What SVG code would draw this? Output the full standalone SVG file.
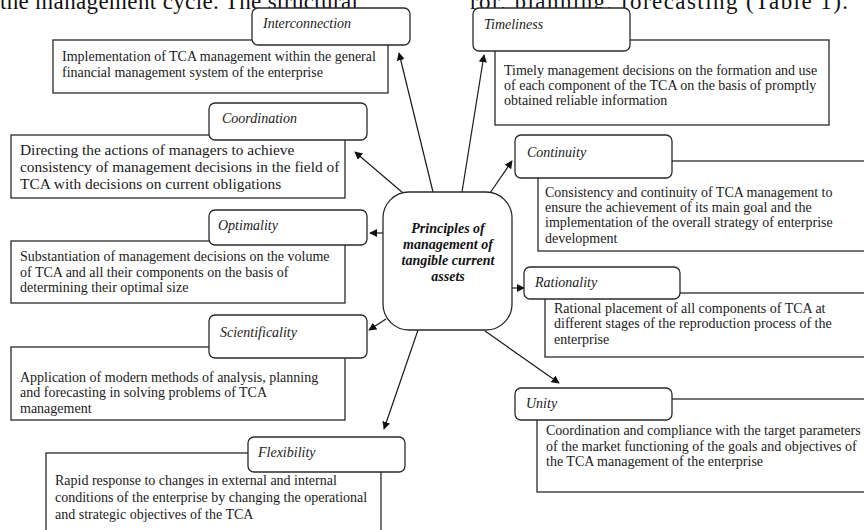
<svg xmlns="http://www.w3.org/2000/svg" width="864" height="530" viewBox="0 0 864 530">
<style>
.box{fill:#fff;stroke:#2a2a2a;stroke-width:1.3}
.lbl{fill:#fff;stroke:#2a2a2a;stroke-width:1.3}
.t{font-family:"Liberation Serif","Times New Roman",serif;font-size:14px;fill:#1a1a1a}
.tb{font-size:15.4px}
.li{font-family:"Liberation Serif","Times New Roman",serif;font-size:14px;font-style:italic;fill:#1a1a1a}
.c{font-family:"Liberation Serif","Times New Roman",serif;font-size:14px;font-style:italic;font-weight:bold;fill:#111;text-anchor:middle}
.hd{font-family:"Liberation Serif","Times New Roman",serif;font-size:23px;fill:#111}
.ar{fill:none;stroke:#1a1a1a;stroke-width:1.2;marker-end:url(#ah)}
</style>
<defs>
<marker id="ah" viewBox="0 0 10 10" refX="9" refY="5" markerWidth="8" markerHeight="8" markerUnits="userSpaceOnUse" orient="auto">
<path d="M0,0 L10,5 L0,10 z" fill="#111"/>
</marker>
</defs>
<rect width="864" height="530" fill="#fff"/>
<g id="header">
<text class="hd" x="0" y="9" textLength="358" lengthAdjust="spacing">the management cycle. The structural</text>
<text class="hd" x="470" y="9" textLength="378" lengthAdjust="spacing">ror, planning, forecasting (Table 1).</text>
</g>
<g id="connectors">
<line class="ar" x1="433" y1="192" x2="399" y2="53"/>
<line class="ar" x1="462" y1="192" x2="484" y2="55"/>
<line class="ar" x1="490" y1="193" x2="512" y2="161"/>
<line class="ar" x1="403" y1="193" x2="355" y2="152"/>
<line class="ar" x1="383" y1="233" x2="370" y2="233"/>
<line class="ar" x1="386" y1="319" x2="369" y2="330"/>
<line class="ar" x1="418" y1="330" x2="384" y2="429"/>
<line class="ar" x1="485" y1="331" x2="559" y2="383"/>
<line class="ar" x1="511" y1="288" x2="524" y2="288"/>
</g>
<g id="interconnection">
<rect class="box" x="53" y="40" width="335" height="53"/>
<text class="t" x="62" y="61">Implementation of TCA management within the general</text>
<text class="t" x="62" y="77">financial management system of the enterprise</text>
<rect class="lbl" x="252" y="8" width="158" height="37" rx="6"/>
<text class="li" x="263" y="28">Interconnection</text>
</g>
<g id="timeliness">
<rect class="box" x="495" y="40" width="334" height="85"/>
<text class="t" x="504" y="75">Timely management decisions on the formation and use</text>
<text class="t" x="504" y="90">of each component of the TCA on the basis of promptly</text>
<text class="t" x="504" y="105">obtained reliable information</text>
<rect class="lbl" x="473" y="8" width="157" height="43" rx="6"/>
<text class="li" x="484" y="29">Timeliness</text>
</g>
<g id="coordination">
<rect class="box" x="11" y="135" width="334" height="63"/>
<text class="t tb" x="20" y="155">Directing the actions of managers to achieve</text>
<text class="t tb" x="20" y="172">consistency of management decisions in the field of</text>
<text class="t tb" x="20" y="189">TCA with decisions on current obligations</text>
<rect class="lbl" x="209" y="103" width="158" height="37" rx="6"/>
<text class="li" x="222" y="123">Coordination</text>
</g>
<g id="optimality">
<rect class="box" x="11" y="241" width="334" height="62"/>
<text class="t" x="20" y="261">Substantiation of management decisions on the volume</text>
<text class="t" x="20" y="277">of TCA and all their components on the basis of</text>
<text class="t" x="20" y="292">determining their optimal size</text>
<rect class="lbl" x="209" y="210" width="158" height="35" rx="6"/>
<text class="li" x="218" y="230">Optimality</text>
</g>
<g id="scientificality">
<rect class="box" x="11" y="347" width="334" height="73"/>
<text class="t" x="20" y="382">Application of modern methods of analysis, planning</text>
<text class="t" x="20" y="397">and forecasting in solving problems of TCA</text>
<text class="t" x="20" y="413">management</text>
<rect class="lbl" x="209" y="315" width="158" height="43" rx="6"/>
<text class="li" x="220" y="337">Scientificality</text>
</g>
<g id="flexibility">
<rect class="box" x="46" y="453" width="335" height="90"/>
<text class="t" x="55" y="485">Rapid response to changes in external and internal</text>
<text class="t" x="55" y="502">conditions of the enterprise by changing the operational</text>
<text class="t" x="55" y="519">and strategic objectives of the TCA</text>
<rect class="lbl" x="248" y="437" width="157" height="35" rx="6"/>
<text class="li" x="258" y="457">Flexibility</text>
</g>
<g id="continuity">
<rect class="box" x="538" y="161" width="340" height="90"/>
<text class="t" x="545" y="197">Consistency and continuity of TCA management to</text>
<text class="t" x="545" y="212">ensure the achievement of its main goal and the</text>
<text class="t" x="545" y="227">implementation of the overall strategy of enterprise</text>
<text class="t" x="545" y="243">development</text>
<rect class="lbl" x="515" y="135" width="157" height="43" rx="6"/>
<text class="li" x="527" y="157">Continuity</text>
</g>
<g id="rationality">
<rect class="box" x="545" y="293" width="335" height="64"/>
<text class="t" x="554" y="313">Rational placement of all components of TCA at</text>
<text class="t" x="554" y="328">different stages of the reproduction process of the</text>
<text class="t" x="554" y="344">enterprise</text>
<rect class="lbl" x="524" y="267" width="156" height="32" rx="6"/>
<text class="li" x="535" y="287">Rationality</text>
</g>
<g id="unity">
<rect class="box" x="537" y="399" width="343" height="93"/>
<text class="t" x="546" y="435">Coordination and compliance with the target parameters</text>
<text class="t" x="546" y="451">of the market functioning of the goals and objectives of</text>
<text class="t" x="546" y="466">the TCA management of the enterprise</text>
<rect class="lbl" x="515" y="388" width="157" height="32" rx="6"/>
<text class="li" x="526" y="408">Unity</text>
</g>
<g id="center">
<rect class="box" x="383" y="192" width="129" height="138" rx="26"/>
<text class="c" x="448" y="233">Principles of</text>
<text class="c" x="448" y="249">management of</text>
<text class="c" x="448" y="265">tangible current</text>
<text class="c" x="448" y="281">assets</text>
</g>
</svg>
